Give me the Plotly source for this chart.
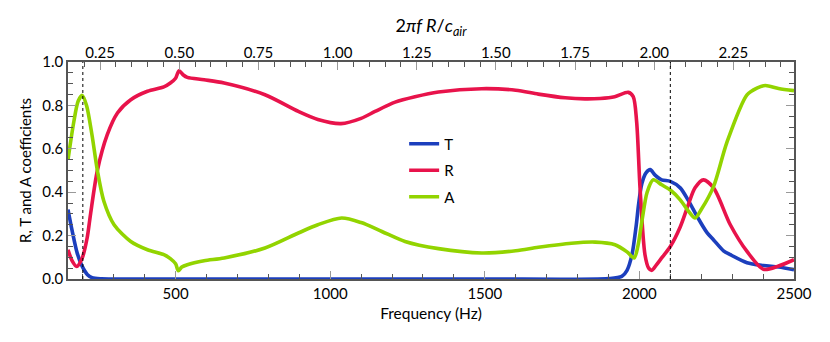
import plotly.graph_objects as go

# frequency (Hz) -> 2*pi*f*R/c_air conversion
HZ_PER_UNIT = 1024.0
F_MIN, F_MAX = 152, 2500
MARKERS = [200, 2100]

f_T = [152, 165, 182, 198, 215, 230, 260, 400, 1000, 1500, 1900, 1943, 1960, 1976, 1990,
       1997, 2008, 2022, 2035, 2050, 2072, 2100, 2132, 2159, 2186, 2218, 2240, 2272, 2294,
       2348, 2401, 2450, 2500]
T = [0.32, 0.225, 0.118, 0.058, 0.02, 0.006, 0.001, 0.0, 0.0, 0.0, 0.002, 0.012, 0.04, 0.112,
     0.25, 0.34, 0.44, 0.49, 0.504, 0.48, 0.457, 0.45, 0.42, 0.36, 0.29, 0.215, 0.18, 0.13,
     0.112, 0.075, 0.062, 0.055, 0.043]

f_R = [152, 165, 180, 198, 214, 225, 247, 279, 312, 355, 409, 462, 483, 500, 511, 525, 538,
       592, 657, 789, 897, 960, 1035, 1100, 1145, 1210, 1274, 1350, 1490, 1600, 1673, 1760,
       1824, 1873, 1920, 1964, 1980, 1991, 2002, 2018, 2030, 2040, 2055, 2072, 2100, 2132,
       2160, 2180, 2207, 2240, 2294, 2348, 2401, 2450, 2500]
R = [0.135, 0.085, 0.058, 0.097, 0.19, 0.30, 0.50, 0.665, 0.765, 0.826, 0.865, 0.885, 0.903,
     0.925, 0.96, 0.94, 0.929, 0.918, 0.903, 0.849, 0.772, 0.735, 0.716, 0.74, 0.772, 0.815,
     0.84, 0.862, 0.877, 0.87, 0.852, 0.835, 0.83, 0.832, 0.84, 0.86, 0.84, 0.726, 0.42,
     0.112, 0.05, 0.04, 0.065, 0.097, 0.15, 0.24, 0.35, 0.42, 0.457, 0.42, 0.25, 0.127,
     0.045, 0.06, 0.089]

f_A = [152, 171, 185, 198, 212, 230, 247, 268, 301, 355, 409, 462, 483, 500, 509, 520, 538,
       592, 657, 789, 897, 960, 1037, 1100, 1167, 1242, 1350, 1490, 1600, 1673, 1780, 1857,
       1921, 1960, 1983, 1995, 2008, 2025, 2045, 2072, 2100, 2132, 2160, 2180, 2200, 2240,
       2283, 2348, 2380, 2407, 2450, 2500]
A = [0.55, 0.726, 0.82, 0.846, 0.80, 0.66, 0.50, 0.358, 0.25, 0.173, 0.135, 0.112, 0.094,
     0.07, 0.038, 0.055, 0.066, 0.084, 0.097, 0.143, 0.212, 0.25, 0.281, 0.26, 0.219, 0.173,
     0.14, 0.12, 0.13, 0.146, 0.165, 0.17, 0.158, 0.125, 0.097, 0.15, 0.265, 0.40, 0.457,
     0.434, 0.41, 0.365, 0.31, 0.281, 0.32, 0.427, 0.63, 0.849, 0.88, 0.892, 0.878, 0.868]

TOP_TICKS = [0.25, 0.5, 0.75, 1.0, 1.25, 1.5, 1.75, 2.0, 2.25]

FONT = "Lato, 'Open Sans', sans-serif"
AX = "#555555"

fig = go.Figure()
for name, fx, fy, col in [("T", f_T, T, "#1c3fbd"),
                          ("R", f_R, R, "#e8134b"),
                          ("A", f_A, A, "#92d400")]:
    fig.add_trace(go.Scatter(x=fx, y=fy, name=name, mode="lines", legendgroup=name,
                             line=dict(color=col, width=3.6, shape="spline", smoothing=0.8)))

# invisible trace to drive the top axis
fig.add_trace(go.Scatter(x=[F_MIN / HZ_PER_UNIT, F_MAX / HZ_PER_UNIT], y=[0, 0], xaxis="x2",
                         mode="lines", line=dict(width=0), showlegend=False, hoverinfo="skip"))

for m in MARKERS:
    fig.add_shape(type="line", xref="x", yref="paper", x0=m, x1=m, y0=0, y1=1,
                  line=dict(color="black", width=1, dash="dot"))

# page body adds an 8px offset, margins account for it
fig.update_layout(
    width=830, height=342,
    margin=dict(l=60, r=44, t=54, b=71),
    plot_bgcolor="white", paper_bgcolor="white",
    font=dict(family=FONT, size=15, color="black"),
    showlegend=True,
    legend=dict(x=0.463, y=0.5, xanchor="left", yanchor="middle", bgcolor="rgba(0,0,0,0)",
                tracegroupgap=4, font=dict(size=15)),
    xaxis=dict(range=[F_MIN, F_MAX], tickvals=[500, 1000, 1500, 2000, 2500],
               ticks="inside", ticklen=8, tickwidth=1, tickcolor="#999999",
               minor=dict(dtick=100, tick0=0, ticks="inside", ticklen=5, tickcolor=AX),
               showline=True, linecolor=AX, linewidth=1.5, mirror=True, showgrid=False,
               zeroline=False,
               title=dict(text="Frequency (Hz)", font=dict(size=15.5), standoff=7)),
    xaxis2=dict(range=[F_MIN / HZ_PER_UNIT, F_MAX / HZ_PER_UNIT], overlaying="x", side="top",
                tickvals=TOP_TICKS, ticktext=[f"{t:.2f}" for t in TOP_TICKS],
                ticks="inside", ticklen=8, tickwidth=1, tickcolor="#999999",
                minor=dict(dtick=0.05, tick0=0, ticks="inside", ticklen=5, tickcolor=AX),
                showgrid=False, zeroline=False,
                title=dict(text="2<i>πf R</i>/<i>c<sub>air</sub></i>", font=dict(size=18),
                           standoff=5)),
    yaxis=dict(range=[0, 1], dtick=0.2, tickformat=".1f",
               ticks="inside", ticklen=8, tickwidth=1, tickcolor="#999999",
               minor=dict(dtick=0.05, ticks="inside", ticklen=5, tickcolor=AX),
               showline=True, linecolor=AX, linewidth=1.5, mirror="ticks", showgrid=False,
               zeroline=False,
               title=dict(text="R, T and A coefficients", font=dict(size=15), standoff=7)),
)

fig.write_html("out.html")
